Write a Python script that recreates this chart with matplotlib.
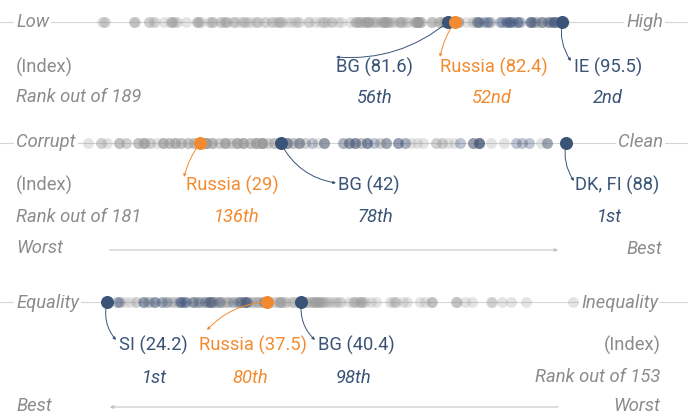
import matplotlib.pyplot as plt

plt.rcParams['font.family'] = ['Roboto', 'DejaVu Sans']

W, H = 688, 415
GREY_TXT = '#8c8c8c'
BLUE = '#3a5478'
ORANGE = '#f28b30'
LINE = '#d4d4d4'

# Human development index (x100), EU members and the rest
hdi_eu = [94.7, 94.5, 94.4, 94.0, 93.8, 93.1, 92.2, 91.6, 91.7, 89.5, 90.4, 90.1,
          89.2, 90.0, 89.2, 88.8, 88.7, 88.0, 88.2, 86.0, 86.6, 86.4, 85.4, 85.1, 82.8]
hdi_other = [95.7, 95.5, 94.9, 94.9, 94.4, 93.8, 93.2, 92.6, 92.9, 93.1, 91.9, 91.9,
             91.9, 91.6, 89.0, 86.8, 85.4, 84.8, 85.2, 85.1, 83.8, 82.9, 84.5, 80.6,
             81.3, 82.3, 82.5, 81.7, 82.0, 81.4, 80.6, 81.4, 81.0, 81.2, 80.4, 79.6,
             79.5, 78.3, 78.3, 78.2, 78.0, 77.9, 77.9, 77.9, 77.9, 77.8, 77.7, 77.7,
             77.6, 77.4, 76.7, 76.5, 76.1, 75.9, 75.9, 75.6, 75.6, 75.0, 74.8, 74.4,
             74.3, 74.2, 74.0, 74.0, 73.8, 73.8, 73.7, 73.5, 73.4, 72.9, 72.8, 72.5,
             72.4, 72.0, 71.8, 71.8, 71.8, 71.6, 71.5, 71.5, 71.1, 70.9, 70.8, 70.7,
             70.4, 70.4, 70.3, 69.7, 68.6, 68.2, 67.4, 67.3, 66.8, 66.5, 66.3, 66.0,
             65.4, 64.6, 64.5, 63.4, 63.2, 63.0, 62.5, 62.0, 61.3, 61.1, 61.1, 60.9,
             60.6, 60.2, 60.1, 59.4, 59.2, 58.4, 58.3, 58.1, 57.4, 57.1, 56.7, 56.7,
             56.3, 55.7, 55.5, 55.4, 54.6, 54.5, 54.4, 54.3, 53.9, 53.8, 52.9, 52.8,
             52.7, 52.4, 51.5, 51.2, 51.1, 51.0, 51.0, 49.6, 48.5, 48.3, 48.0, 48.0,
             48.0, 47.7, 47.0, 45.9, 45.6, 45.2, 45.2, 43.4, 43.3, 43.3, 39.8, 39.7,
             39.4, 82.6, 79.6, 81.0, 81.5]
hdi_bg, hdi_ru, hdi_ie = 81.6, 82.4, 95.5

# Corruption perceptions index
cpi_eu = [88, 85, 82, 80, 81, 74, 74, 73, 74, 71, 62, 61, 61, 59, 57, 53, 54, 56,
          56, 54, 52, 49, 47, 45, 43]
cpi_other = [88, 85, 85, 84, 76, 74, 78, 73, 74, 73, 73, 69, 68, 68, 67, 67, 65, 64,
             63, 62, 59, 59, 55, 58, 58, 55, 55, 53, 53, 56, 54, 49, 52, 53, 48, 49,
             49, 46, 46, 45, 45, 44, 44, 44, 43, 40, 41, 43, 43, 41, 41, 42, 45, 42,
             39, 39, 39, 40, 43, 39, 38, 38, 38, 38, 38, 38, 37, 37, 39, 37, 39, 39,
             35, 33, 36, 33, 39, 36, 36, 36, 35, 33, 36, 35, 33, 34, 32, 33, 31, 31,
             39, 35, 34, 30, 30, 28, 31, 35, 30, 30, 29, 28, 30, 30, 30, 29, 30, 29,
             32, 28, 26, 26, 24, 27, 31, 27, 26, 24, 25, 24, 23, 27, 25, 25, 25, 23,
             23, 22, 23, 21, 21, 20, 20, 20, 20, 20, 19, 19, 19, 17, 17, 16, 16, 16,
             14, 13, 13, 11, 70]
cpi_ru, cpi_bg, cpi_dk = 29, 42, 88

# Gini coefficient
gini_eu = [25.2, 25.0, 27.2, 27.3, 28.1, 28.2, 28.8, 30.8, 30.2, 30.4, 30.6, 31.4,
           31.9, 32.4, 29.2, 32.7, 30.4, 35.4, 32.9, 33.5, 34.7, 35.9, 35.8, 35.6, 37.3]
gini_other = [25.3, 26.6, 25.7, 27.8, 27.6, 26.6, 29.7, 29.9, 27.6, 26.1, 29.0, 31.6,
              31.5, 36.2, 33.2, 33.1, 28.7, 33.7, 34.0, 33.3, 31.4, 32.9, 34.4, 35.1,
              32.7, 35.0, 34.3, 32.6, 35.7, 29.5, 36.7, 32.4, 32.8, 35.7, 35.7, 38.5,
              33.0, 33.0, 36.4, 32.8, 33.7, 33.0, 35.3, 35.3, 43.3, 34.2, 39.8, 42.0,
              41.9, 41.4, 39.0, 38.5, 38.2, 36.4, 38.8, 30.7, 35.9, 50.7, 40.3, 43.5,
              35.1, 41.5, 40.5, 40.8, 42.8, 38.6, 41.6, 42.6, 46.6, 43.1, 47.8, 42.3,
              41.1, 39.7, 38.6, 41.4, 41.6, 41.5, 41.9, 45.4, 45.7, 44.4, 44.8, 45.4,
              48.0, 48.2, 46.2, 48.3, 49.2, 51.3, 53.4, 43.7, 44.7, 44.9, 48.9, 42.1,
              51.3, 56.2, 50.3, 54.6, 53.3, 54.0, 57.1, 59.1, 63.0, 41.1, 45.5, 36.7,
              41.9, 37.4, 37.6, 38.7, 37.6, 37.1, 40.1, 39.1, 37.0, 36.8, 32.1, 56.3,
              45.3, 42.4, 38.0, 33.7, 31.8, 37.5, 39.5, 35.3, 40.8, 53.3, 57.9, 51.2,
              40.3, 45.1, 31.3]
gini_si, gini_ru, gini_bg = 24.2, 37.5, 40.4

fig = plt.figure(figsize=(6.88, 4.15), dpi=100)


def pos(x, y):
    return (x / W, 1 - y / H)


def txt(x, y, s, color=GREY_TXT, ha='left', style='normal', box=False):
    kw = {}
    if box:
        kw['bbox'] = dict(facecolor='white', edgecolor='none', pad=1.5)
    fig.text(*pos(x, y), s, color=color, ha=ha, va='center', fontsize=13.2,
             style=style, **kw)


def strip(y, lo, hi, eu, other, marks):
    ax = fig.add_axes([0, 1 - (y + 12) / H, 1, 24 / H])
    ax.set_xlim(lo, hi)
    ax.set_ylim(-1, 1)
    ax.axis('off')
    ax.axhline(0, color=LINE, lw=0.8, zorder=0)
    ax.scatter(other, [0] * len(other), s=62, color='#9a9a9a', alpha=0.26,
               linewidths=0, zorder=2, clip_on=False)
    ax.scatter(eu, [0] * len(eu), s=62, color='#3d5178', alpha=0.33,
               linewidths=0, zorder=3, clip_on=False)
    for value, colour, target, rad in marks:
        ax.scatter([value], [0], s=70, color=colour, zorder=6, clip_on=False)
        ax.annotate('', xy=pos(*target), xycoords='figure fraction',
                    xytext=(value, 0), textcoords='data',
                    arrowprops=dict(arrowstyle='-|>', color=colour, lw=0.7,
                                    mutation_scale=4, shrinkA=0, shrinkB=0,
                                    connectionstyle=f'arc3,rad={rad}'),
                    zorder=4)
    return ax


# Row 1: HDI
strip(22, 26.97, 110.87, hdi_eu, hdi_other,
      [(hdi_bg, BLUE, (336, 57), -0.2),
       (hdi_ru, ORANGE, (440, 57), 0.1),
       (hdi_ie, BLUE, (571, 61), 0.2)])
txt(16, 22, 'Low', style='italic', box=True)
txt(663, 22, 'High', ha='right', style='italic', box=True)
txt(16, 67, '(Index)')
txt(16, 97, 'Rank out of 189', style='italic')
txt(375, 67, 'BG (81.6)', BLUE, 'center')
txt(375, 98, '56th', BLUE, 'center', 'italic')
txt(494, 67, 'Russia (82.4)', ORANGE, 'center')
txt(492, 98, '52nd', ORANGE, 'center', 'italic')
txt(608, 67, 'IE (95.5)', BLUE, 'center')
txt(608, 98, '2nd', BLUE, 'center', 'italic')

# Row 2: CPI
strip(143, -3.26, 107.71, cpi_eu, cpi_other,
      [(cpi_ru, ORANGE, (184, 177), 0.1),
       (cpi_bg, BLUE, (336, 183), 0.25),
       (cpi_dk, BLUE, (574, 181), 0.2)])
txt(16, 142, 'Corrupt', style='italic', box=True)
txt(663, 142, 'Clean', ha='right', style='italic', box=True)
txt(16, 185, '(Index)')
txt(16, 217, 'Rank out of 181', style='italic')
txt(232, 185, 'Russia (29)', ORANGE, 'center')
txt(237, 217, '136th', ORANGE, 'center', 'italic')
txt(369, 185, 'BG (42)', BLUE, 'center')
txt(375, 217, '78th', BLUE, 'center', 'italic')
txt(617, 185, 'DK, FI (88)', BLUE, 'center')
txt(609, 217, '1st', BLUE, 'center', 'italic')
txt(16, 248, 'Worst', style='italic')
txt(662, 249, 'Best', ha='right', style='italic')
fig.add_artist(plt.matplotlib.patches.FancyArrowPatch(
    pos(107, 250), pos(561, 250), transform=fig.transFigure, arrowstyle='-|>',
    mutation_scale=5, color='#c4c4c4', lw=0.8))

# Row 3: Gini
strip(302, 15.28, 72.62, gini_eu, gini_other,
      [(gini_si, BLUE, (116, 340), 0.25),
       (gini_ru, ORANGE, (207, 330), 0.2),
       (gini_bg, BLUE, (315, 340), 0.25)])
txt(16, 303, 'Equality', style='italic', box=True)
txt(658, 303, 'Inequality', ha='right', style='italic', box=True)
txt(153, 345, 'SI (24.2)', BLUE, 'center')
txt(154, 378, '1st', BLUE, 'center', 'italic')
txt(253, 345, 'Russia (37.5)', ORANGE, 'center')
txt(250, 378, '80th', ORANGE, 'center', 'italic')
txt(356, 345, 'BG (40.4)', BLUE, 'center')
txt(354, 378, '98th', BLUE, 'center', 'italic')
txt(661, 345, '(Index)', ha='right')
txt(660, 377, 'Rank out of 153', ha='right', style='italic')
txt(16, 406, 'Best', style='italic')
txt(660, 406, 'Worst', ha='right', style='italic')
fig.add_artist(plt.matplotlib.patches.FancyArrowPatch(
    pos(561, 407), pos(107, 407), transform=fig.transFigure, arrowstyle='-|>',
    mutation_scale=5, color='#c4c4c4', lw=0.8))

fig.savefig('out.png', dpi=100)
